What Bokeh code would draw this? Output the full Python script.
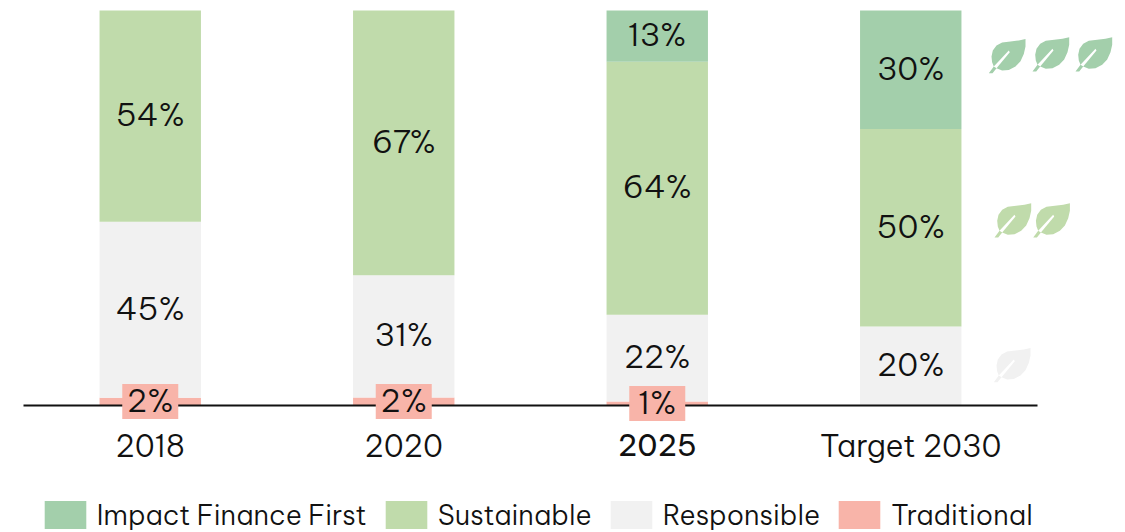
from bokeh.plotting import figure
from bokeh.embed import file_html
from bokeh.resources import INLINE
from bokeh.core.properties import value
from bokeh.models import (ColumnDataSource, FixedTicker, LinearAxis, Legend, LegendItem,
                          Range1d)

years = ["2018", "2020", "2025", "Target 2030"]
traditional = [2, 2, 1, 0]
responsible = [45, 31, 22, 20]
sustainable = [54, 67, 64, 50]
impact_first = [0, 0, 13, 30]

series_names = ["Impact Finance First", "Sustainable", "Responsible", "Traditional"]
series_colors = ["#A3CFAB", "#C0DBAB", "#F1F1F1", "#F8B4A9"]

# leaf icon outline and vein, in pixels from the foot of the stem
leaf_outline_x = [36.7, 30, 21.7, 13.3, 7.7, 4, 2.7, 3.3, 5, 0, 3.7, 7.7, 13.3, 20, 26.7, 31.7, 35, 36.7]
leaf_outline_y = [34.3, 32.7, 31.7, 30.7, 27.7, 22.7, 16.7, 11, 6.7, 0, 0, 5, 2.7, 3.3, 6.7, 12, 19.3, 26.7]
vein_x = [20, 21, 7.7, 5]
vein_y = [22.7, 21, 5, 6.7]
leaf_anchor_x = [988.3, 1032, 1075, 994, 1032.7, 993.3]
leaf_anchor_y = [72.7, 71, 71, 237, 237, 381.7]
leaf_colors = ["#A3CFAB"] * 3 + ["#C0DBAB"] * 2 + ["#F1F1F1"]

FONT = "Be Vietnam Pro Light"
HEAVY_FONT = "Be Vietnam Pro"
INK = "#111111"
W, H = 1125, 532
LEFT, BAND, BASE, UNIT = 23, 253.5, 405, 3.95

p = figure(width=W, height=H, output_backend="svg", toolbar_location=None,
           x_axis_type=None, y_axis_type=None, min_border=0,
           x_range=Range1d(-LEFT / BAND, (W - LEFT) / BAND),
           y_range=Range1d(-(H - BASE) / UNIT, BASE / UNIT),
           outline_line_color=None)
p.xgrid.visible = False
p.ygrid.visible = False

# page-pixel ranges for the leaf icons
p.extra_x_ranges["page_x"] = Range1d(0, W)
p.extra_y_ranges["page_y"] = Range1d(H, 0)

# each stack is normalised to 100 so all bars fill the same height
x = [i + 0.5 for i in range(len(years))]
stack_order = [traditional, responsible, sustainable, impact_first]
stack_names = series_names[::-1]
stack_colors = series_colors[::-1]
totals = [sum(s[i] for s in stack_order) for i in range(len(years))]
bottoms = [0.0] * len(years)
swatches = {}
label_x, label_y, label_text = [], [], []
box_x, box_y = [], []
for vals, name, color in zip(stack_order, stack_names, stack_colors):
    tops = [b + v * 100 / t for b, v, t in zip(bottoms, vals, totals)]
    src = ColumnDataSource(dict(x=x, bottom=bottoms, top=tops))
    swatches[name] = p.vbar(x="x", bottom="bottom", top="top", width=0.4, source=src,
                            fill_color=color, line_color=None)
    for xi, b, tp, v in zip(x, bottoms, tops, vals):
        if v > 0:
            label_x.append(xi)
            label_y.append((b + tp) / 2)
            label_text.append(f"{v}%")
            if name == "Traditional":
                box_x.append(xi)
                box_y.append((b + tp) / 2)
    bottoms = tops

# baseline axis with year labels; 2025 is set apart in a heavier weight
plain_axis = LinearAxis(ticker=FixedTicker(ticks=[0.5, 1.5, 3.5]),
                        major_label_overrides={0.5: years[0], 1.5: years[1], 3.5: years[3]},
                        fixed_location=0, bounds=(0, 4),
                        axis_line_color=INK, axis_line_width=2,
                        major_tick_line_color=None, minor_tick_line_color=None,
                        major_label_standoff=14,
                        major_label_text_font=FONT, major_label_text_font_size="30.5px",
                        major_label_text_color=INK)
p.add_layout(plain_axis, "below")
bold_axis = LinearAxis(ticker=FixedTicker(ticks=[2.5]),
                       major_label_overrides={2.5: years[2]},
                       fixed_location=0, bounds=(0, 4),
                       axis_line_color=None,
                       major_tick_line_color=None, minor_tick_line_color=None,
                       major_label_standoff=22,
                       major_label_text_font=HEAVY_FONT, major_label_text_font_size="30px",
                       major_label_text_color=INK)
p.add_layout(bold_axis, "below")

# pink plates sit over the baseline behind the small Traditional labels
plate = p.rect(x=box_x, y=box_y, width=56, height=35, width_units="screen", height_units="screen",
               fill_color="#F8B4A9", line_color=None)
plate.level = "annotation"
value_labels = p.text(x=label_x, y=label_y, text=label_text, text_font=value(FONT),
                      text_font_size="32px", text_align="center", text_baseline="middle",
                      y_offset=-2, text_color=INK)
value_labels.level = "annotation"

# leaf icons, drawn in page pixels from one outline
for ax, ay, c in zip(leaf_anchor_x, leaf_anchor_y, leaf_colors):
    p.patch([ax + v for v in leaf_outline_x], [ay - v for v in leaf_outline_y],
            fill_color=c, line_color=None, x_range_name="page_x", y_range_name="page_y")
    p.patch([ax + v for v in vein_x], [ay - v for v in vein_y],
            fill_color="white", line_color=None, x_range_name="page_x", y_range_name="page_y")

# area swatches are inset by a tenth on each side, so the glyph box is oversized
legend = Legend(items=[LegendItem(label=n, renderers=[swatches[n]]) for n in series_names],
                orientation="horizontal", location=(38.8, 0), margin=0, padding=0,
                border_line_color=None, background_fill_alpha=0,
                glyph_width=52, glyph_height=35, label_standoff=6, spacing=13,
                label_text_font=FONT, label_text_font_size="27.3px",
                label_text_color=INK, label_height=30)
p.add_layout(legend, "center")

open("out.html", "w").write(file_html(p, INLINE))
